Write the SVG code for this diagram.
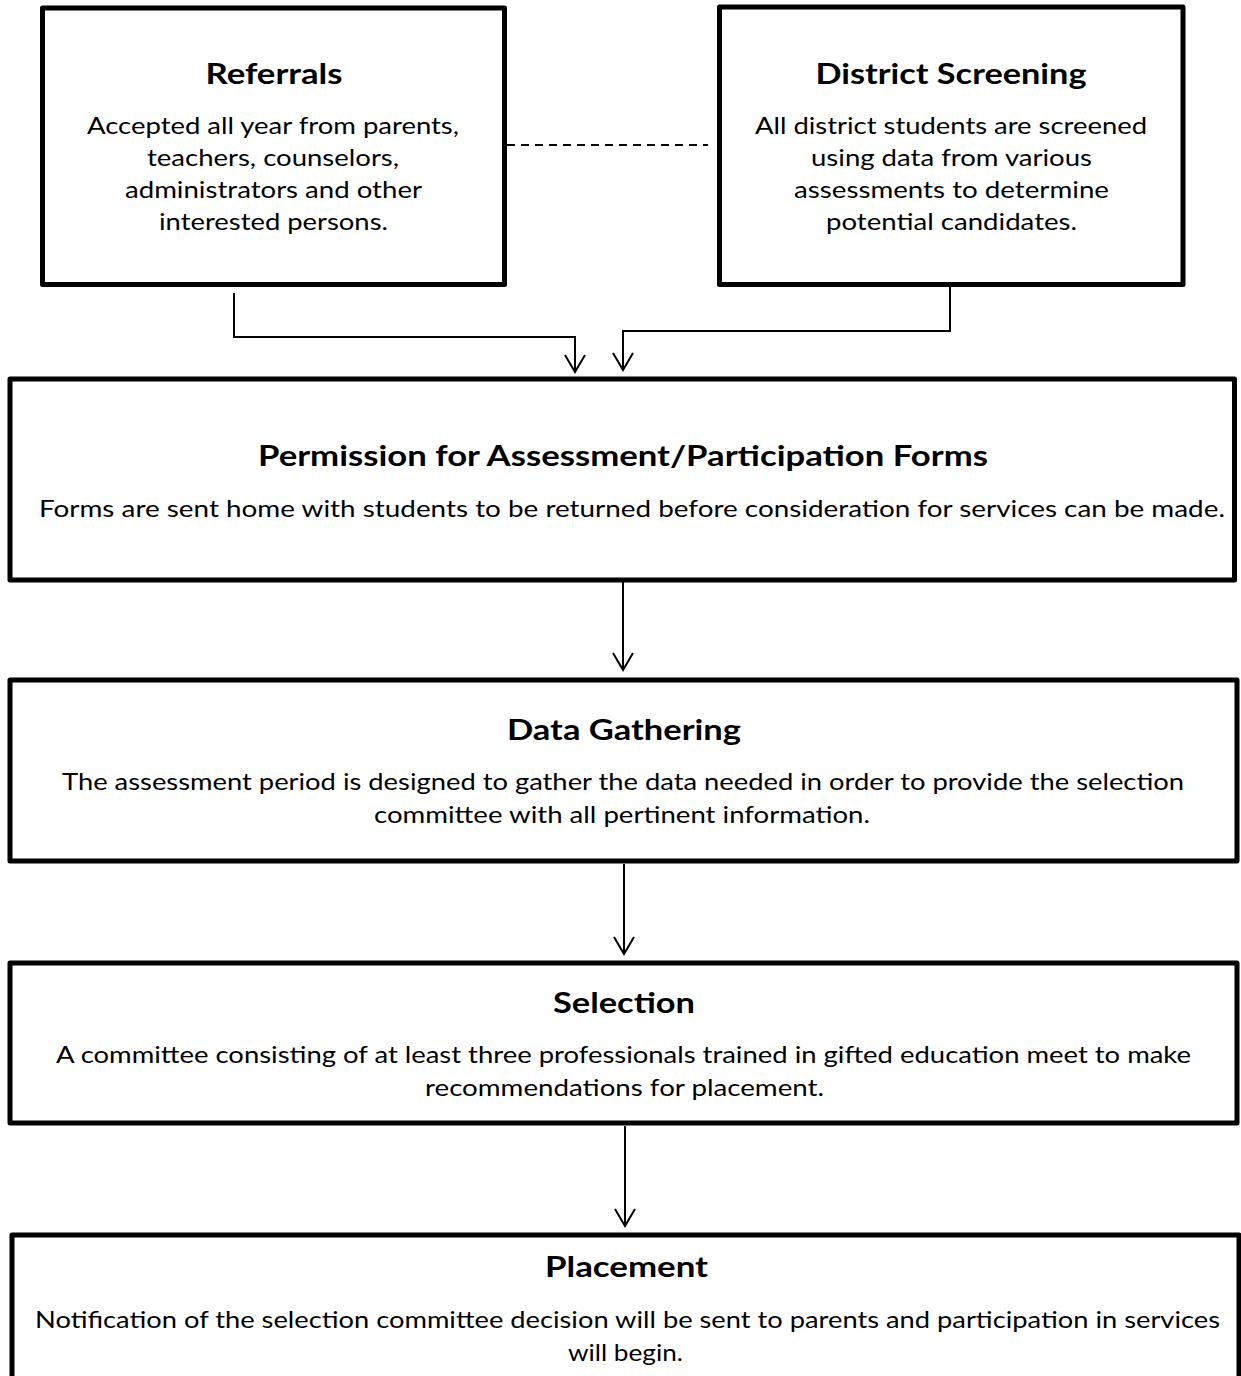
<svg xmlns="http://www.w3.org/2000/svg" width="1241" height="1376" viewBox="0 0 1241 1376">
<style>
.box{fill:#fff;stroke:#000;stroke-width:5;stroke-linejoin:round}
.t{font-family:Lato,"Open Sans","Liberation Sans",sans-serif;font-weight:bold;font-size:29px;fill:#000;text-anchor:middle}
.b{font-family:Lato,"Open Sans","Liberation Sans",sans-serif;font-size:24px;fill:#000;text-anchor:middle}
.c{fill:none;stroke:#000;stroke-width:2}
.d{fill:none;stroke:#000;stroke-width:2;stroke-dasharray:8 6}
</style>
<defs>
<marker id="ah" markerUnits="userSpaceOnUse" markerWidth="26" markerHeight="22" refX="12" refY="19" orient="0" viewBox="0 0 24 22">
<path d="M2,2 L12,19 L22,2" fill="none" stroke="#000" stroke-width="2"/>
</marker>
</defs>
<rect width="1241" height="1376" fill="#fff"/>
<g id="connectors">
<path class="d" d="M507,145 H708"/>
<path class="c" d="M234,293 V337 H575 V372" marker-end="url(#ah)"/>
<path class="c" d="M950,287 V331 H623 V370" marker-end="url(#ah)"/>
<path class="c" d="M623,582 V670" marker-end="url(#ah)"/>
<path class="c" d="M624,864 V954" marker-end="url(#ah)"/>
<path class="c" d="M625,1126 V1226" marker-end="url(#ah)"/>
</g>
<g id="referrals">
<rect class="box" x="42.5" y="8" width="462" height="276.5"/>
<text class="t" x="274" y="84" textLength="137" lengthAdjust="spacingAndGlyphs">Referrals</text>
<text class="b" x="273" y="134" textLength="372" lengthAdjust="spacingAndGlyphs">Accepted all year from parents,</text>
<text class="b" x="273" y="166" textLength="252" lengthAdjust="spacingAndGlyphs">teachers, counselors,</text>
<text class="b" x="273.5" y="198" textLength="297" lengthAdjust="spacingAndGlyphs">administrators and other</text>
<text class="b" x="273.5" y="230" textLength="229" lengthAdjust="spacingAndGlyphs">interested persons.</text>
</g>
<g id="district-screening">
<rect class="box" x="719.5" y="7" width="463.5" height="277.5"/>
<text class="t" x="951" y="84" textLength="271" lengthAdjust="spacingAndGlyphs">District Screening</text>
<text class="b" x="951" y="134" textLength="392" lengthAdjust="spacingAndGlyphs">All district students are screened</text>
<text class="b" x="951.5" y="166" textLength="281" lengthAdjust="spacingAndGlyphs">using data from various</text>
<text class="b" x="951.5" y="198" textLength="315" lengthAdjust="spacingAndGlyphs">assessments to determine</text>
<text class="b" x="951.5" y="230" textLength="251" lengthAdjust="spacingAndGlyphs">potential candidates.</text>
</g>
<g id="permission">
<rect class="box" x="10" y="379" width="1224.5" height="201"/>
<text class="t" x="623" y="466" textLength="730" lengthAdjust="spacingAndGlyphs">Permission for Assessment/Participation Forms</text>
<text class="b" x="632" y="517" textLength="1186" lengthAdjust="spacingAndGlyphs">Forms are sent home with students to be returned before consideration for services can be made.</text>
</g>
<g id="data-gathering">
<rect class="box" x="10" y="680" width="1227" height="181"/>
<text class="t" x="624" y="740" textLength="234" lengthAdjust="spacingAndGlyphs">Data Gathering</text>
<text class="b" x="623" y="790" textLength="1122" lengthAdjust="spacingAndGlyphs">The assessment period is designed to gather the data needed in order to provide the selection</text>
<text class="b" x="622" y="823" textLength="496" lengthAdjust="spacingAndGlyphs">committee with all pertinent information.</text>
</g>
<g id="selection">
<rect class="box" x="10" y="963" width="1227" height="160"/>
<text class="t" x="624" y="1013" textLength="142" lengthAdjust="spacingAndGlyphs">Selection</text>
<text class="b" x="623.5" y="1063" textLength="1135" lengthAdjust="spacingAndGlyphs">A committee consisting of at least three professionals trained in gifted education meet to make</text>
<text class="b" x="624.5" y="1096" textLength="399" lengthAdjust="spacingAndGlyphs">recommendations for placement.</text>
</g>
<g id="placement">
<rect class="box" x="12" y="1235" width="1227" height="200"/>
<text class="t" x="626.5" y="1277" textLength="163" lengthAdjust="spacingAndGlyphs">Placement</text>
<text class="b" x="627.5" y="1328" textLength="1185" lengthAdjust="spacingAndGlyphs">Notification of the selection committee decision will be sent to parents and participation in services</text>
<text class="b" x="625.5" y="1361" textLength="115" lengthAdjust="spacingAndGlyphs">will begin.</text>
</g>
</svg>
